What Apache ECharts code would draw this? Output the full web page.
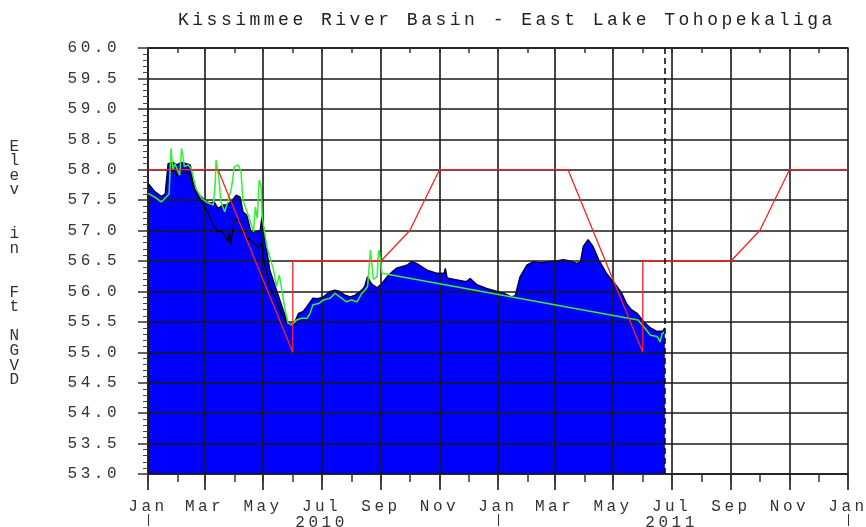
<!DOCTYPE html>
<html>
<head>
<meta charset="utf-8">
<title>Kissimmee River Basin - East Lake Tohopekaliga</title>
<script src="https://cdn.jsdelivr.net/npm/echarts@6/dist/echarts.min.js"></script>
<style>
  html, body { margin: 0; padding: 0; background: #fff; }
  #chart { width: 866px; height: 527px; }
</style>
</head>
<body>
<div id="chart"></div>
<script>
// observed lake stage (blue fill)
const stageDates = [
  '2010-01-01', '2010-01-08', '2010-01-15', '2010-01-19', '2010-01-22', '2010-01-27', '2010-01-31', '2010-02-05',
  '2010-02-10', '2010-02-14', '2010-02-17', '2010-02-22', '2010-03-01', '2010-03-06', '2010-03-11', '2010-03-15',
  '2010-03-20', '2010-03-25', '2010-03-30', '2010-04-03', '2010-04-07', '2010-04-10', '2010-04-14', '2010-04-18',
  '2010-04-23', '2010-04-28', '2010-04-30', '2010-05-03', '2010-05-08', '2010-05-15', '2010-05-22', '2010-05-27',
  '2010-06-02', '2010-06-07', '2010-06-12', '2010-06-17', '2010-06-22', '2010-06-27', '2010-07-03', '2010-07-10',
  '2010-07-15', '2010-07-20', '2010-07-25', '2010-07-31', '2010-08-05', '2010-08-12', '2010-08-15', '2010-08-18',
  '2010-08-21', '2010-08-23', '2010-08-28', '2010-09-02', '2010-09-09', '2010-09-17', '2010-09-28', '2010-10-03',
  '2010-10-08', '2010-10-19', '2010-10-29', '2010-11-06', '2010-11-07', '2010-11-09', '2010-11-19', '2010-11-29',
  '2010-12-03', '2010-12-10', '2010-12-20', '2010-12-31', '2011-01-07', '2011-01-15', '2011-01-19', '2011-01-24',
  '2011-01-31', '2011-02-07', '2011-02-15', '2011-02-24', '2011-03-03', '2011-03-10', '2011-03-17', '2011-03-24',
  '2011-03-28', '2011-03-31', '2011-04-05', '2011-04-10', '2011-04-16', '2011-04-24', '2011-05-05', '2011-05-10',
  '2011-05-15', '2011-05-20', '2011-05-26', '2011-06-02', '2011-06-09', '2011-06-16', '2011-06-22', '2011-06-24'
];
const stageValues = [
  57.78, 57.64, 57.56, 57.60, 58.10, 58.12, 58.08, 58.12,
  58.10, 58.08, 57.80, 57.61, 57.50, 57.45, 57.47, 57.36,
  57.42, 57.42, 57.50, 57.58, 57.55, 57.31, 57.25, 57.00,
  56.98, 57.00, 57.23, 56.85, 56.35, 56.02, 55.69, 55.48,
  55.45, 55.64, 55.67, 55.78, 55.89, 55.88, 55.91, 56.00,
  56.02, 56.00, 55.94, 55.91, 55.94, 56.02, 56.08, 56.24,
  56.15, 56.11, 56.06, 56.13, 56.27, 56.38, 56.43, 56.49,
  56.46, 56.35, 56.30, 56.30, 56.38, 56.22, 56.19, 56.16,
  56.21, 56.11, 56.05, 56.00, 55.97, 55.91, 55.93, 56.24,
  56.43, 56.49, 56.47, 56.49, 56.50, 56.52, 56.50, 56.46,
  56.48, 56.74, 56.85, 56.74, 56.52, 56.30, 56.08, 55.97,
  55.80, 55.70, 55.64, 55.50, 55.40, 55.34, 55.35, 55.40
];

// second stage record, only where it departs from the fill
const headDates = [
  '2010-01-24', '2010-01-26', '2010-01-29', '2010-01-31', '2010-02-03', '2010-02-07', '2010-02-11', '2010-02-14',
  '2010-02-18', '2010-02-23', '2010-02-28', '2010-03-04', '2010-03-10', '2010-03-15', '2010-03-18', '2010-03-22',
  '2010-03-25', '2010-03-27', '2010-03-28', '2010-04-01', '2010-04-05', '2010-04-08', '2010-04-10', '2010-04-17',
  '2010-04-23', '2010-04-26', '2010-04-30', '2010-05-01', '2010-05-08', '2010-05-15', '2010-05-20', '2010-05-26'
];
const headValues = [
  58.05, 57.97, 58.00, 57.89, 57.97, 57.93, 57.97, 57.91,
  57.67, 57.53, 57.42, 57.31, 57.09, 56.98, 57.00, 56.93,
  56.82, 56.97, 56.77, 57.15, 57.20, 57.10, 56.95, 56.85,
  56.77, 56.71, 56.80, 56.57, 56.08, 55.86, 55.64, 55.48
];

// green record
const greenDates = [
  '2010-01-01', '2010-01-08', '2010-01-15', '2010-01-18', '2010-01-23', '2010-01-25', '2010-01-27', '2010-01-29',
  '2010-02-03', '2010-02-05', '2010-02-08', '2010-02-12', '2010-02-15', '2010-02-20', '2010-02-26', '2010-03-03',
  '2010-03-10', '2010-03-12', '2010-03-13', '2010-03-16', '2010-03-18', '2010-03-22', '2010-03-25', '2010-03-29',
  '2010-04-01', '2010-04-05', '2010-04-08', '2010-04-10', '2010-04-16', '2010-04-21', '2010-04-23', '2010-04-25',
  '2010-04-27', '2010-04-29', '2010-04-30', '2010-05-05', '2010-05-12', '2010-05-15', '2010-05-18', '2010-05-20',
  '2010-05-24', '2010-05-27', '2010-05-31', '2010-06-05', '2010-06-10', '2010-06-16', '2010-06-19', '2010-06-22',
  '2010-06-28', '2010-07-03', '2010-07-10', '2010-07-15', '2010-07-20', '2010-07-27', '2010-08-01', '2010-08-07',
  '2010-08-12', '2010-08-15', '2010-08-18', '2010-08-20', '2010-08-21', '2010-08-23', '2010-08-24', '2010-08-28',
  '2010-08-29', '2010-08-30', '2010-09-02', '2011-05-27', '2011-06-02', '2011-06-09', '2011-06-16', '2011-06-19',
  '2011-06-21', '2011-06-24'
];
const greenValues = [
  57.61, 57.55, 57.47, 57.52, 57.60, 58.35, 58.00, 58.10,
  57.91, 58.35, 58.05, 58.08, 58.02, 57.69, 57.53, 57.47,
  57.42, 57.75, 58.16, 57.86, 57.47, 57.31, 57.47, 57.69,
  58.05, 58.08, 57.97, 57.50, 57.23, 56.98, 57.39, 57.20,
  57.83, 57.72, 57.23, 56.73, 56.35, 56.08, 56.27, 56.08,
  55.69, 55.48, 55.45, 55.53, 55.56, 55.56, 55.64, 55.78,
  55.80, 55.86, 55.89, 55.97, 55.91, 55.83, 55.86, 55.83,
  55.97, 56.02, 56.08, 56.10, 56.68, 56.66, 56.20, 56.24,
  56.60, 56.68, 56.30, 55.53, 55.42, 55.28, 55.26, 55.17,
  55.30, 55.34
];

// regulation schedule (red)
const schedDates = [
  '2010-01-01', '2010-03-15', '2010-06-01', '2010-06-01', '2010-09-01', '2010-10-01', '2010-11-01',
  '2011-03-15', '2011-06-01', '2011-06-01', '2011-09-01', '2011-10-01', '2011-11-01', '2012-01-01'
];
const schedValues = [
  58.0, 58.0, 55.0, 56.5, 56.5, 57.0, 58.0,
  58.0, 55.0, 56.5, 56.5, 57.0, 58.0, 58.0
];

const reportDate = '2011-06-24';

const monthNames = ['Jan', 'Feb', 'Mar', 'Apr', 'May', 'Jun', 'Jul', 'Aug', 'Sep', 'Oct', 'Nov', 'Dec'];
const yAxisTitle = ['E', 'l', 'e', 'v', '', '', 'i', 'n', '', '', 'F', 't', '', 'N', 'G', 'V', 'D'];

// the original plot uses a widely spaced typewriter font
const baseGetContext = HTMLCanvasElement.prototype.getContext;
HTMLCanvasElement.prototype.getContext = function (...args) {
  const ctx = baseGetContext.apply(this, args);
  if (ctx && 'letterSpacing' in ctx) ctx.letterSpacing = '3.5px';
  return ctx;
};

const FONT = '"Liberation Mono", "DejaVu Sans Mono", monospace';
const GRID = '#1a1a1a';

const toTime = s => {
  const [y, m, d] = s.split('-').map(Number);
  return Date.UTC(y, m - 1, d);
};
const zip = (xs, ys) => xs.map((x, i) => [toTime(x), ys[i]]);

const monthStarts = [];
for (let i = 0; i <= 24; i++) monthStarts.push(Date.UTC(2010, i, 1));
const labelMonths = monthStarts.filter((_, i) => i % 2 === 0);
const yearStarts = [monthStarts[0], monthStarts[12], monthStarts[24]];
const yearMids = [monthStarts[6], monthStarts[18]];

const xMin = monthStarts[0];
const xMax = monthStarts[24];

const chart = echarts.init(document.getElementById('chart'), null, { renderer: 'canvas' });

const option = {
  animation: false,
  backgroundColor: '#fff',
  title: {
    text: 'Kissimmee River Basin - East Lake Tohopekaliga',
    left: 178,
    top: 9,
    padding: 0,
    textStyle: { fontFamily: FONT, fontSize: 18, fontWeight: 'normal', color: '#222' }
  },
  grid: { left: 148, right: 18, top: 48, bottom: 53, containLabel: false, outerBoundsMode: 'none' },
  graphic: [{
    type: 'text',
    x: 16,
    y: 139,
    style: {
      text: yAxisTitle.join('\n'),
      fontFamily: FONT,
      fontSize: 16,
      lineHeight: 14.6,
      fill: '#333',
      align: 'center',
      verticalAlign: 'top'
    }
  }],
  xAxis: [
    {
      type: 'value', min: xMin, max: xMax, position: 'bottom', z: 2,
      axisLine: { lineStyle: { color: GRID, width: 1.6 } },
      axisTick: { customValues: labelMonths, length: 16, lineStyle: { color: GRID, width: 1.6 } },
      axisLabel: {
        customValues: labelMonths,
        formatter: v => monthNames[new Date(v).getUTCMonth()],
        margin: 23, fontFamily: FONT, fontSize: 16, color: '#333'
      },
      splitLine: { show: true, lineStyle: { color: GRID, width: 1.6 } }
    },
    {
      type: 'value', min: xMin, max: xMax, position: 'bottom', z: 2,
      axisLine: { show: false },
      axisTick: { customValues: monthStarts, length: 8, lineStyle: { color: '#333', width: 1.5 } },
      axisLabel: { show: false },
      splitLine: { show: false }
    },
    {
      type: 'value', min: xMin, max: xMax, position: 'top', z: 2,
      axisLine: { lineStyle: { color: GRID, width: 1.6 } },
      axisTick: { customValues: monthStarts, inside: true, length: 5, lineStyle: { color: '#333', width: 1.5 } },
      axisLabel: { show: false },
      splitLine: { show: false }
    },
    {
      type: 'value', min: xMin, max: xMax, position: 'bottom', offset: 40, z: 2,
      axisLine: { show: false },
      axisTick: { customValues: yearStarts, length: 12, lineStyle: { color: '#333', width: 1 } },
      axisLabel: {
        customValues: yearMids,
        formatter: v => String(new Date(v).getUTCFullYear()),
        margin: -1, fontFamily: FONT, fontSize: 16, color: '#333'
      },
      splitLine: { show: false }
    }
  ],
  yAxis: {
    type: 'value', min: 53, max: 60, interval: 0.5, z: 2,
    axisLine: { show: true, lineStyle: { color: GRID, width: 1.6 } },
    axisTick: { show: true, length: 10, lineStyle: { color: '#333', width: 1.5 } },
    minorTick: { show: true, splitNumber: 5, length: 5, lineStyle: { color: '#444', width: 1 } },
    axisLabel: { formatter: v => v.toFixed(1), margin: 28, fontFamily: FONT, fontSize: 16, color: '#333' },
    splitLine: { show: true, lineStyle: { color: GRID, width: 1.6 } }
  },
  series: [
    {
      name: 'Stage',
      type: 'line',
      z: 1,
      data: zip(stageDates, stageValues),
      showSymbol: false,
      lineStyle: { color: '#000040', width: 1.5 },
      areaStyle: { color: '#0000ff', opacity: 1, origin: 'start' }
    },
    {
      name: 'Headwater',
      type: 'line',
      z: 3,
      data: zip(headDates, headValues),
      showSymbol: false,
      lineStyle: { color: '#000', width: 1.3 },
      markLine: {
        silent: true,
        symbol: 'none',
        label: { show: false },
        lineStyle: { color: '#000', width: 1.5, type: [6, 4] },
        data: [{ xAxis: toTime(reportDate) }]
      }
    },
    {
      name: 'Green',
      type: 'line',
      z: 3,
      data: zip(greenDates, greenValues),
      showSymbol: false,
      lineStyle: { color: '#33f033', width: 1.5 }
    },
    {
      name: 'Schedule',
      type: 'line',
      z: 4,
      data: zip(schedDates, schedValues),
      showSymbol: false,
      lineStyle: { color: '#ff2020', width: 1.3 }
    }
  ]
};

chart.setOption(option);
</script>
</body>
</html>
